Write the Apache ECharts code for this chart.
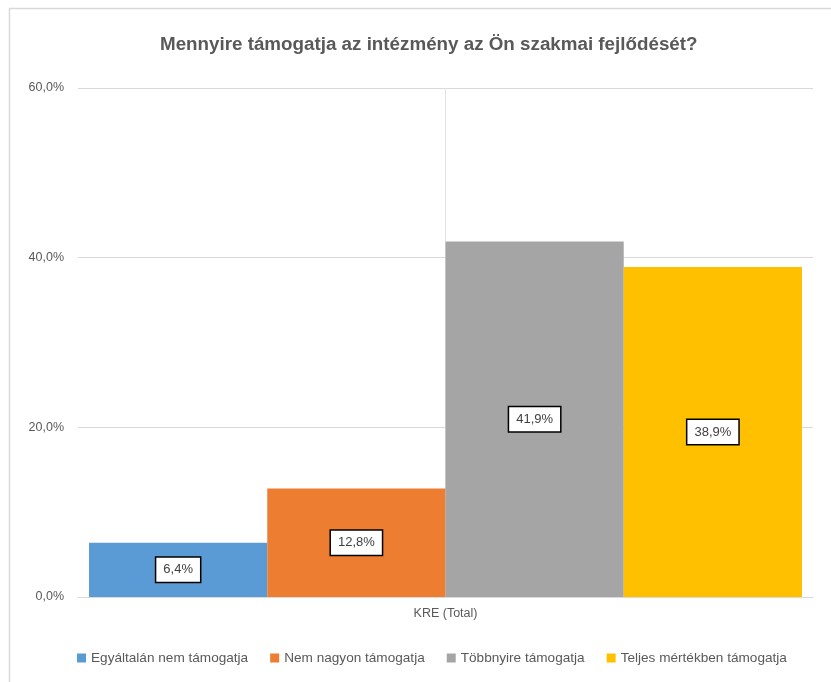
<!DOCTYPE html>
<html><head><meta charset="utf-8">
<script src="https://cdn.jsdelivr.net/npm/echarts@6/dist/echarts.min.js"></script>
<style>html,body{margin:0;padding:0;background:#fff}#c{width:831px;height:682px}</style>
</head><body><div id="c"></div>
<script>
const categories = ['KRE (Total)'];
const seriesNames = ['Egyáltalán nem támogatja','Nem nagyon támogatja','Többnyire támogatja','Teljes mértékben támogatja'];
const values = [6.4, 12.8, 41.9, 38.9];
const colors = ['#5B9BD5','#ED7D31','#A5A5A5','#FFC000'];
const yTicks = [0, 20, 40, 60];
const FONT = '"Liberation Sans", sans-serif';
const fmt = v => v.toFixed(1).replace('.', ',') + '%';
const chart = echarts.init(document.getElementById('c'));
chart.setOption({
  animation: false,
  textStyle: {fontFamily: FONT},
  graphic: [{type:'rect', left:7, top:6, shape:{width:840, height:690}, style:{fill:'none', stroke:'#d9d9d9', lineWidth:1.5}, silent:true}],
  title: {text:'Mennyire támogatja az intézmény az Ön szakmai fejlődését?', left:155, top:30,
    textStyle:{fontFamily:FONT, fontSize:18.8, fontWeight:'bold', color:'#595959'}},
  grid: {left:78, right:18, top:88, bottom:85},
  legend: {left:72, top:646, itemWidth:9, itemHeight:9, itemGap:22, icon:'rect',
    textStyle:{fontFamily:FONT, fontSize:13.6, color:'#595959'}, data: seriesNames},
  xAxis: [
    {type:'category', data:categories,
      axisLine:{lineStyle:{color:'#d9d9d9'}}, axisTick:{show:false},
      axisLabel:{color:'#595959', fontSize:12.5, margin:10, fontFamily:FONT}},
    {type:'value', min:0, max:2, interval:1, position:'bottom',
      axisLine:{show:false}, axisTick:{show:false}, axisLabel:{show:false},
      splitLine:{show:true, showMinLine:false, showMaxLine:false, lineStyle:{color:'#e3e3e3'}}}
  ],
  yAxis: {type:'value', min:yTicks[0], max:yTicks[yTicks.length-1], interval:20,
    axisLabel:{formatter:fmt, color:'#595959', fontSize:12.5, margin:14, fontFamily:FONT},
    splitLine:{lineStyle:{color:'#d9d9d9'}}, axisLine:{show:false}, axisTick:{show:false}},
  series: seriesNames.map((n,i)=>({
    name:n, type:'bar', xAxisIndex:0, data:[values[i]], barGap:'0%', barCategoryGap:'3%',
    itemStyle:{color:colors[i]},
    label:{show:true, position:'inside', formatter:p=>fmt(p.value), color:'#404040', fontSize:13, fontFamily:FONT,
      backgroundColor:'#fff', borderColor:'#000', borderWidth:1.5, padding:[6,7,5,7]},
    z: 2
  }))
});
</script></body></html>
